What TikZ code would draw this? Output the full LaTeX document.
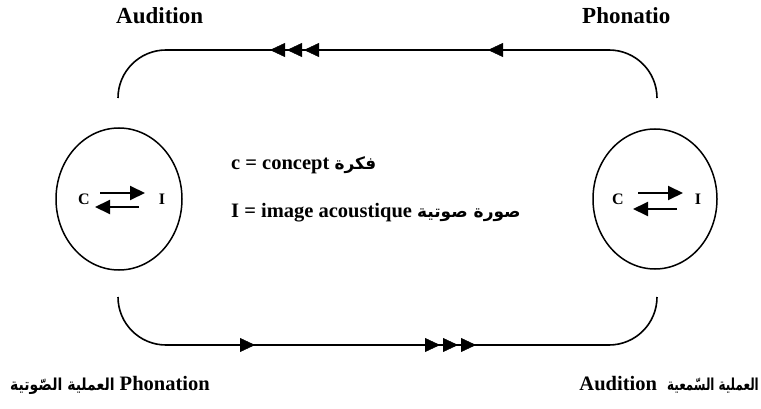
\documentclass[tikz,border=0pt]{standalone}
\usepackage{fontspec}
\setmainfont{Liberation Serif}
\newfontfamily\arabicfont[Script=Arabic]{DejaVu Sans}
\TeXXeTstate=1
\usetikzlibrary{shapes.geometric,arrows.meta,decorations.markings,calc}
\tikzset{
  tri/.tip={Triangle[length=15pt,width=14pt]},
  loopline/.style={line width=1.6pt, rounded corners=48pt},
  oval/.style={draw, ellipse, line width=1.5pt, minimum width=126pt, minimum height=142pt, inner sep=0pt},
  lbl/.style={font=\bfseries\fontsize{23}{26}\selectfont, inner sep=0pt, anchor=base west},
  blbl/.style={font=\bfseries\fontsize{20.5}{23}\selectfont, inner sep=0pt},
  mid/.style={font=\bfseries\fontsize{20.5}{23}\selectfont, inner sep=0pt, anchor=base west},
  ci/.style={font=\bfseries\fontsize{16}{18}\selectfont, inner sep=0pt},
  inarrow/.style={line width=2pt, -{Triangle[length=15pt,width=14pt]}},
  topmarks/.style={postaction={decorate, decoration={markings,
      mark=at position 169pt with {\arrow{tri}},
      mark=at position 353pt with {\arrow{tri}},
      mark=at position 370pt with {\arrow{tri}},
      mark=at position 387pt with {\arrow{tri}}}}},
  botmarks/.style={postaction={decorate, decoration={markings,
      mark=at position 137pt with {\arrow{tri}},
      mark=at position 322pt with {\arrow{tri}},
      mark=at position 340pt with {\arrow{tri}},
      mark=at position 358pt with {\arrow{tri}}}}},
}
\newcommand{\ar}[1]{{\arabicfont\fontsize{17}{20}\selectfont #1}}
\newcommand{\arb}[2]{\scalebox{#1}[1]{\arabicfont\fontsize{16.5}{19}\selectfont #2}}
\begin{document}
\begin{tikzpicture}[x=1pt,y=-1pt]
\useasboundingbox (0,0) rectangle (761,409);

% ellipses
\node[oval] (EL) at (119,199) {};
\node[oval, minimum width=124pt, minimum height=140pt] (ER) at (655,199) {};

% C and I letters
\node[ci] (CL) at (84,199) {C};
\node[ci] (IL) at (162,199) {I};
\node[ci] (CR) at (618,199) {C};
\node[ci] (IR) at (698,199) {I};

% inner arrows
\draw[inarrow] ($(CL)+(16,-6)$) -- ($(IL)+(-17,-6)$);
\draw[inarrow] ($(IL)+(-23,8)$) -- ($(CL)+(11,8)$);
\draw[inarrow] ($(CR)+(20,-6)$) -- ($(IR)+(-15,-6)$);
\draw[inarrow] ($(IR)+(-21,10)$) -- ($(CR)+(15,10)$);

% loop coordinates
\coordinate (LT) at (118,98);
\coordinate (LTc) at (118,50);
\coordinate (RTc) at (657,50);
\coordinate (RT) at (657,98);
\coordinate (LB) at (118,297);
\coordinate (LBc) at (118,345);
\coordinate (RBc) at (657,345);
\coordinate (RB) at (657,297);

\draw[loopline] (RT) -- (RTc) -- (LTc) -- (LT);
\path[topmarks] (RTc) -- (LTc);
\draw[loopline] (LB) -- (LBc) -- (RBc) -- (RB);
\path[botmarks] (LBc) -- (RBc);

% labels
\node[lbl] (aud) at (116,24) {Audition};
\node[lbl] (pho) at (582,24) {Phonatio};
\node[mid] (t1) at (231,170) {c = concept \ar{\beginR فكرة\endR}};
\node[mid] (t2) at (231,218) {I = image acoustique \ar{\beginR صورة صوتية\endR}};
\node[blbl, anchor=base west] (bl) at (10,390) {\arb{0.85}{\beginR العملية الصّوتية\endR} Phonation};
\node[blbl, anchor=base east] (br) at (759,390) {Audition \ \arb{0.72}{\beginR العملية السّمعية\endR}};
\end{tikzpicture}
\end{document}
